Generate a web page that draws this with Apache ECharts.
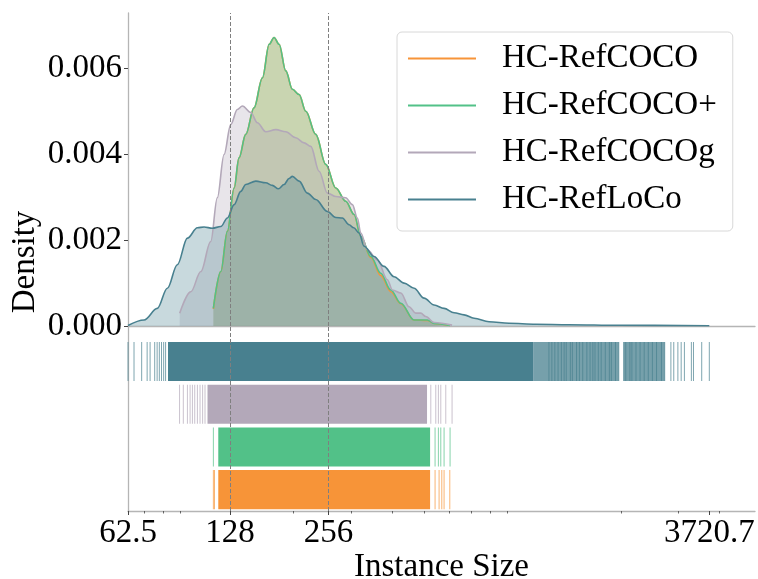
<!DOCTYPE html>
<html>
<head>
<meta charset="utf-8">
<script src="https://cdn.jsdelivr.net/npm/echarts@6/dist/echarts.min.js"></script>
<style>
  html, body { margin: 0; padding: 0; background: #ffffff; }
  #chart { width: 758px; height: 579px; }
</style>
</head>
<body>
<div id="chart"></div>
<script>
// Dataset names, in drawing order
const seriesNames = ['HC-RefCOCO', 'HC-RefCOCO+', 'HC-RefCOCOg', 'HC-RefLoCo'];
const seriesColors = ['#f79438', '#52c188', '#b3a8b9', '#48808f'];

// Kernel density of instance size: [instance size, density]
const densityRefCOCO = [
  [113.9, 0.00040], [120.0, 0.00127], [125.7, 0.00221], [131.8, 0.00322], [136.4, 0.00392],
  [143.0, 0.00447], [151.6, 0.00509], [160.8, 0.00579], [168.6, 0.00657], [174.5, 0.00673],
  [180.8, 0.00657], [189.5, 0.00595], [198.5, 0.00552], [208.1, 0.00540], [218.1, 0.00501],
  [233.9, 0.00447], [251.0, 0.00377], [269.3, 0.00322], [288.8, 0.00291], [306.4, 0.00260],
  [321.0, 0.00209], [344.5, 0.00160], [369.4, 0.00118], [396.4, 0.00080], [425.3, 0.00052],
  [466.9, 0.00014], [512.7, 0.00013], [537.5, 0.00006], [600.2, 0.00001]
];
const densityRefCOCOplus = [
  [113.9, 0.00041], [120.0, 0.00127], [125.7, 0.00221], [131.8, 0.00322], [136.4, 0.00392],
  [143.0, 0.00447], [151.6, 0.00509], [160.8, 0.00579], [168.6, 0.00657], [174.5, 0.00673],
  [180.8, 0.00657], [189.5, 0.00595], [198.5, 0.00552], [208.1, 0.00540], [218.1, 0.00501],
  [233.9, 0.00447], [251.0, 0.00377], [269.3, 0.00322], [288.8, 0.00291], [306.4, 0.00260],
  [321.0, 0.00209], [344.5, 0.00162], [369.4, 0.00123], [396.4, 0.00084], [425.3, 0.00053],
  [466.9, 0.00014], [512.7, 0.00014], [537.5, 0.00006], [601.4, 0.00001]
];
const densityRefCOCOg = [
  [89.9, 0.00030], [97.2, 0.00080], [104.3, 0.00127], [111.8, 0.00197], [117.1, 0.00299],
  [122.8, 0.00400], [128.7, 0.00470], [134.8, 0.00505], [139.7, 0.00513], [148.2, 0.00498],
  [155.2, 0.00474], [164.6, 0.00453], [176.7, 0.00458], [189.5, 0.00453], [203.2, 0.00439],
  [215.6, 0.00427], [225.9, 0.00419], [239.5, 0.00361], [253.9, 0.00310], [269.3, 0.00302],
  [288.8, 0.00299], [302.6, 0.00283], [313.4, 0.00252], [321.0, 0.00217], [336.3, 0.00178],
  [360.8, 0.00154], [387.0, 0.00108], [400.9, 0.00084], [425.3, 0.00077], [450.7, 0.00045],
  [472.4, 0.00030], [489.4, 0.00030], [507.0, 0.00022], [537.5, 0.00008], [609.9, 0.00002]
];
const densityRefLoCo = [
  [62.5, 0.00001], [70.0, 0.00014], [76.8, 0.00041], [82.4, 0.00088], [88.4, 0.00143],
  [94.9, 0.00205], [101.8, 0.00229], [106.7, 0.00231], [113.1, 0.00228], [120.0, 0.00232],
  [125.7, 0.00252], [131.8, 0.00283], [138.1, 0.00314], [143.0, 0.00330], [153.5, 0.00338],
  [164.6, 0.00334], [172.4, 0.00328], [179.9, 0.00320], [187.2, 0.00330], [193.9, 0.00344],
  [198.5, 0.00349], [208.1, 0.00338], [220.6, 0.00310], [233.9, 0.00295], [253.9, 0.00267],
  [269.3, 0.00253], [282.1, 0.00252], [295.7, 0.00236], [305.6, 0.00229], [317.2, 0.00217],
  [328.6, 0.00186], [352.3, 0.00162], [378.0, 0.00139], [405.6, 0.00115], [435.3, 0.00100],
  [466.9, 0.00088], [501.0, 0.00065], [537.5, 0.00049], [576.6, 0.00041], [618.7, 0.00031],
  [663.6, 0.00026], [712.2, 0.00018], [791.3, 0.00010], [910.7, 0.000063], [1098, 0.00004],
  [1388, 0.00003], [1972, 0.000016], [3720.7, 0.000007]
];

// Rug strips: fully dense span, clustered spans, and isolated observations
const rugCoreRefCOCO = [117.9, 522.6];
const rugClustersRefCOCO = [];
const rugTicksRefCOCO = [113.9, 114.8, 541.2, 556.7, 567.4, 576.6, 600.2];
const rugCoreRefCOCOplus = [117.9, 522.6];
const rugClustersRefCOCOplus = [];
const rugTicksRefCOCOplus = [113.9, 541.2, 554.0, 563.4, 576.6, 601.4];
const rugCoreRefCOCOg = [109.3, 511.5];
const rugClustersRefCOCOg = [];
const rugTicksRefCOCOg = [89.8, 92.2, 94.9, 96.7, 98.3, 99.9, 101.8, 103.7, 105.6, 107.4,
  525.2, 543.9, 554.0, 563.4, 583.5, 609.9];
const rugCoreRefLoCo = [82.8, 1081];
const rugClustersRefLoCo = [[1081, 1969], [2038, 2719]];
const rugTicksRefLoCo = [62.5, 65.2, 68.8, 71.5, 73.0, 75.4, 76.7, 77.9, 79.1, 80.3, 81.4,
  1205, 1230, 1256, 1285, 1315, 1341, 1361, 1401, 1421, 1463, 1493, 1528, 1573, 1609, 1641,
  1666, 1705, 1740, 1791, 1843, 1869, 1924, 1969, 2038, 2068, 2129, 2159, 2222, 2287, 2354,
  2423, 2494, 2567, 2658, 2719, 2840, 2898, 2983, 3053, 3123, 3280, 3329, 3527, 3720.7];

// Axis ticks (instance size)
const xRange = [62.5, 5130];
const majorTicks = [62.5, 128, 256, 3720.7];
const majorTickLabels = ['62.5', '128', '256', '3720.7'];
const minorTicks = [70, 80, 90, 200, 300, 400, 500, 600, 700, 800, 900, 2000, 3000, 4000];
const thresholds = [128, 256];
const densityTicks = [0, 0.002, 0.004, 0.006];

const FONT = 'Liberation Serif';
const lg = Math.log2;
const spineColor = '#b5b5b5';
const tickColor = '#444444';

const densities = [densityRefCOCO, densityRefCOCOplus, densityRefCOCOg, densityRefLoCo];
const rugCores = [rugCoreRefCOCO, rugCoreRefCOCOplus, rugCoreRefCOCOg, rugCoreRefLoCo];
const rugClusters = [rugClustersRefCOCO, rugClustersRefCOCOplus, rugClustersRefCOCOg, rugClustersRefLoCo];
const rugTicks = [rugTicksRefCOCO, rugTicksRefCOCOplus, rugTicksRefCOCOg, rugTicksRefLoCo];

const ROW_HALF = 0.457;

function gridBox(top, height) {
  return { left: 128, right: 3, top: top, height: height, outerBoundsMode: 'none' };
}

function xAxisBase(gridIndex) {
  return {
    type: 'value', gridIndex: gridIndex,
    min: lg(xRange[0]), max: lg(xRange[1]),
    splitLine: { show: false }
  };
}

const densitySeries = densities.map((d, i) => ({
  name: seriesNames[i],
  type: 'line',
  xAxisIndex: 0, yAxisIndex: 0,
  data: d.map(p => [lg(p[0]), p[1]]),
  symbol: 'none',
  smooth: 0.35,
  smoothMonotone: 'x',
  lineStyle: { color: seriesColors[i], width: 1.6 },
  itemStyle: { color: seriesColors[i] },
  areaStyle: { color: seriesColors[i], opacity: 0.3, origin: 'start' },
  silent: true,
  z: 2
}));

const dashedRefs = {
  silent: true, symbol: 'none', label: { show: false },
  lineStyle: { color: '#7f7f7f', type: [4, 2], width: 1 },
  data: thresholds.map(t => ({ xAxis: lg(t) }))
};
densitySeries[3].markLine = dashedRefs;

function rugRenderer(opacity) {
  return function (params, api) {
    const row = api.value(2);
    const a = api.coord([api.value(0), row - ROW_HALF]);
    const b = api.coord([api.value(1), row + ROW_HALF]);
    let x = a[0], w = b[0] - a[0];
    if (w < 1) { x = a[0] - 0.5; w = 1; }
    return {
      type: 'rect',
      shape: { x: x, y: b[1], width: w, height: a[1] - b[1] },
      style: { fill: seriesColors[Math.floor(row)], opacity: opacity }
    };
  };
}

const coreData = [];
const clusterData = [];
const tickData = [];
rugCores.forEach((c, i) => coreData.push([lg(c[0]), lg(c[1]), i + 0.5]));
rugClusters.forEach((arr, i) => arr.forEach(c => clusterData.push([lg(c[0]), lg(c[1]), i + 0.5])));
rugTicks.forEach((arr, i) => arr.forEach(v => tickData.push([lg(v), lg(v), i + 0.5])));

function rugSeries(name, data, opacity) {
  return {
    name: name, type: 'custom', xAxisIndex: 1, yAxisIndex: 1,
    renderItem: rugRenderer(opacity), data: data,
    encode: { x: [0, 1], y: 2 }, silent: true, z: 2
  };
}

const rugLayers = [
  rugSeries('rug-core', coreData, 1),
  rugSeries('rug-clusters', clusterData, 0.75),
  rugSeries('rug-ticks', tickData, 0.7)
];
rugLayers[2].markLine = Object.assign({}, dashedRefs);

const option = {
  animation: false,
  backgroundColor: '#ffffff',
  textStyle: { fontFamily: FONT },
  grid: [gridBox(13, 313), gridBox(326, 185), gridBox(13, 498)],
  legend: {
    data: seriesNames,
    orient: 'vertical',
    left: 397, top: 32,
    icon: 'rect',
    itemWidth: 68, itemHeight: 2, itemGap: 14,
    padding: [10, 16, 15, 11],
    backgroundColor: 'rgba(255,255,255,0.8)',
    borderColor: '#d8d8d8', borderWidth: 1, borderRadius: 5,
    textStyle: { fontFamily: FONT, fontSize: 33, color: '#000000', padding: [0, 0, 0, 21] }
  },
  xAxis: [
    Object.assign(xAxisBase(0), {
      axisLine: { show: true, lineStyle: { color: spineColor, width: 1.3 } },
      axisTick: { show: false }, axisLabel: { show: false }
    }),
    Object.assign(xAxisBase(1), {
      position: 'bottom',
      axisLine: { show: true, lineStyle: { color: spineColor, width: 1.3 } },
      axisTick: { show: true, length: 4, lineStyle: { color: tickColor, width: 1 },
        customValues: majorTicks.map(lg) },
      axisLabel: {
        show: true, customValues: majorTicks.map(lg), margin: 6,
        fontFamily: FONT, fontSize: 33, color: '#000000',
        formatter: v => {
          const k = majorTicks.findIndex(t => Math.abs(lg(t) - v) < 1e-6);
          return k >= 0 ? majorTickLabels[k] : '';
        }
      },
      name: 'Instance Size', nameLocation: 'middle', nameGap: 38,
      nameTextStyle: { fontFamily: FONT, fontSize: 33, color: '#000000' }
    }),
    Object.assign(xAxisBase(1), {
      position: 'bottom',
      axisLine: { show: false },
      axisTick: { show: true, length: 2.5, lineStyle: { color: tickColor, width: 0.8 },
        customValues: minorTicks.map(lg) },
      axisLabel: { show: false }
    }),
    Object.assign(xAxisBase(2), { show: false })
  ],
  yAxis: [
    {
      type: 'value', gridIndex: 0, min: 0, max: 0.0073,
      axisLine: { show: false },
      splitLine: { show: false },
      axisTick: { show: true, length: 4, lineStyle: { color: tickColor, width: 1 },
        customValues: densityTicks },
      axisLabel: {
        customValues: densityTicks, margin: 6,
        fontFamily: FONT, fontSize: 33, color: '#000000',
        formatter: v => v.toFixed(3)
      }
    },
    {
      type: 'value', gridIndex: 1, min: 0, max: 4.33,
      axisLine: { show: false }, axisTick: { show: false },
      axisLabel: { show: false }, splitLine: { show: false }
    },
    {
      type: 'value', gridIndex: 2, min: 0, max: 1,
      axisLine: { show: true, lineStyle: { color: spineColor, width: 1.3 } },
      axisTick: { show: false }, axisLabel: { show: false }, splitLine: { show: false },
      name: 'Density', nameLocation: 'middle', nameGap: 86,
      nameTextStyle: { fontFamily: FONT, fontSize: 33, color: '#000000' }
    }
  ],
  series: densitySeries.concat(rugLayers)
};

const chart = echarts.init(document.getElementById('chart'), null, { renderer: 'canvas' });
chart.setOption(option);
</script>
</body>
</html>
